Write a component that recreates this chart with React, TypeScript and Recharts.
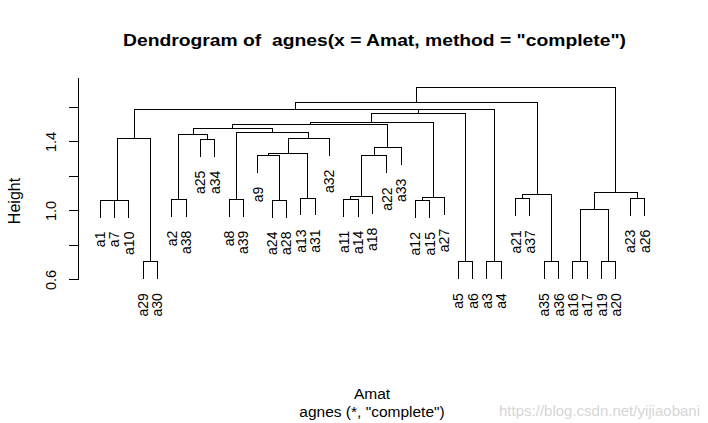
import React from 'react'
import { ComposedChart, Scatter, XAxis, YAxis, ReferenceLine } from 'recharts'

// leaf order, left to right, as plotted
const leafLabels = [
  'a1', 'a7', 'a10', 'a29', 'a30', 'a2', 'a38', 'a25', 'a34', 'a8', 'a39', 'a9', 'a24',
  'a28', 'a13', 'a31', 'a32', 'a11', 'a14', 'a18', 'a22', 'a33', 'a12', 'a15', 'a27',
  'a5', 'a6', 'a3', 'a4', 'a21', 'a37', 'a35', 'a36', 'a16', 'a17', 'a19', 'a20', 'a23', 'a26',
]

// merge steps: a leaf name or '#k' for the k-th merge (1-based)
const mergeLeft = [
  'a29', 'a5', 'a3', 'a35', 'a16', 'a19', '#5', 'a1', '#8', 'a24', 'a12', 'a2', 'a8',
  'a11', 'a21', 'a13', 'a23', '#11', '#14', '#7', '#15', 'a9', '#19', '#22', '#23',
  'a25', '#9', '#24', '#12', '#13', '#29', '#31', '#32', '#33', '#34', '#27', '#36', '#37',
]
const mergeRight = [
  'a30', 'a6', 'a4', 'a36', 'a17', 'a20', '#6', 'a7', 'a10', 'a28', 'a15', 'a38', 'a39',
  'a14', 'a37', 'a31', 'a26', 'a27', 'a18', '#17', '#4', '#10', 'a22', '#16', 'a33',
  'a34', '#1', 'a32', '#26', '#28', '#30', '#25', '#18', '#2', '#3', '#35', '#21', '#20',
]
const mergeHeights = [
  0.706, 0.706, 0.706, 0.706, 0.706, 0.706, 1.01, 1.063, 1.063, 1.063, 1.06, 1.068, 1.068,
  1.068, 1.071, 1.075, 1.074, 1.079, 1.085, 1.108, 1.097, 1.323, 1.319, 1.334, 1.369,
  1.416, 1.422, 1.422, 1.445, 1.456, 1.479, 1.502, 1.514, 1.566, 1.587, 1.591, 1.628, 1.717,
]

const heightTicks = [0.6, 0.8, 1.0, 1.2, 1.4, 1.6]
const labelledTicks = [0.6, 1.0, 1.4]

const FONT = '"Liberation Sans", Arial, sans-serif'
const n = leafLabels.length
const xDomain = [1 - 0.04 * (n - 1), n + 0.04 * (n - 1)]
const yDomain = [0.3623, 1.769]
const hang = 0.1 * (Math.max(...mergeHeights) - Math.min(...mergeHeights))

// work out x positions and the bracket drawn for each merge
const clusterX: number[] = []
const brackets: { x: number; y: number }[][] = []
const leafPoints: { x: number; y: number; label: string }[] = []

mergeHeights.forEach((h, i) => {
  const side = (ref: string) => {
    if (ref.startsWith('#')) {
      const k = Number(ref.slice(1)) - 1
      return { x: clusterX[k], bottom: mergeHeights[k] }
    }
    const x = leafLabels.indexOf(ref) + 1
    leafPoints.push({ x, y: h - hang, label: ref })
    return { x, bottom: h - hang }
  }
  const l = side(mergeLeft[i])
  const r = side(mergeRight[i])
  clusterX.push((l.x + r.x) / 2)
  brackets.push([
    { x: l.x, y: l.bottom },
    { x: l.x, y: h },
    { x: r.x, y: h },
    { x: r.x, y: r.bottom },
  ])
})

const LeafLabel = (props: any) => {
  const { cx, cy, payload } = props
  const y = cy + 14
  return (
    <text x={cx} y={y} transform={`rotate(-90 ${cx} ${y})`} textAnchor="end" dy="0.36em"
      fontSize={14} fontFamily={FONT} fill="#000">
      {payload.label}
    </text>
  )
}

const HeightTick = (props: any) => {
  const { x, y, payload } = props
  const show = labelledTicks.includes(payload.value)
  return (
    <g>
      <line x1={x - 9} x2={x} y1={y} y2={y} stroke="#000" shapeRendering="crispEdges" />
      {show && (
        <text x={x - 28} y={y} transform={`rotate(-90 ${x - 28} ${y})`} textAnchor="middle"
          dy="0.36em" fontSize={14.5} fontFamily={FONT} fill="#000">
          {payload.value.toFixed(1)}
        </text>
      )}
    </g>
  )
}

export default function App() {
  return (
    <div style={{ position: 'absolute', left: 0, top: 0, width: 708, height: 423, background: '#fff' }}>
      <ComposedChart width={708} height={423} margin={{ top: 78.3, right: 41.6, bottom: 102, left: 0 }}>
        <XAxis type="number" dataKey="x" domain={xDomain} hide />
        <YAxis type="number" dataKey="y" domain={yDomain} width={78.3} ticks={heightTicks}
          axisLine={false} tickLine={false} tickSize={0} tickMargin={0} tick={<HeightTick />} />
        <ReferenceLine segment={[{ x: xDomain[0], y: 0.6 }, { x: xDomain[0], y: yDomain[1] }]}
          stroke="#000" shapeRendering="crispEdges" />
        {brackets.map((pts, i) => (
          <Scatter key={i} data={pts}
            line={{ stroke: '#000', strokeWidth: 1, shapeRendering: 'crispEdges' }} lineType="joint"
            shape={() => <g />} isAnimationActive={false} />
        ))}
        <Scatter data={leafPoints} shape={<LeafLabel />} isAnimationActive={false} />
        <text x={374.5} y={46} textAnchor="middle" fontSize={16} fontWeight="bold" fontFamily={FONT}
          textLength={503} lengthAdjust="spacingAndGlyphs">
          {'Dendrogram of\u00A0 agnes(x = Amat, method = "complete")'}
        </text>
        <text x={14} y={201} transform="rotate(-90 14 201)" textAnchor="middle" dy="0.36em"
          fontSize={16} fontFamily={FONT}>Height</text>
        <text x={372} y={399} textAnchor="middle" fontSize={15.5} fontFamily={FONT}>Amat</text>
        <text x={372} y={417} textAnchor="middle" fontSize={15.5} fontFamily={FONT}>
          agnes (*, "complete")
        </text>
        <text x={700} y={416} textAnchor="end" fontSize={15} fontFamily={FONT} fill="#d6d6d6">
          https://blog.csdn.net/yijiaobani
        </text>
      </ComposedChart>
    </div>
  )
}
